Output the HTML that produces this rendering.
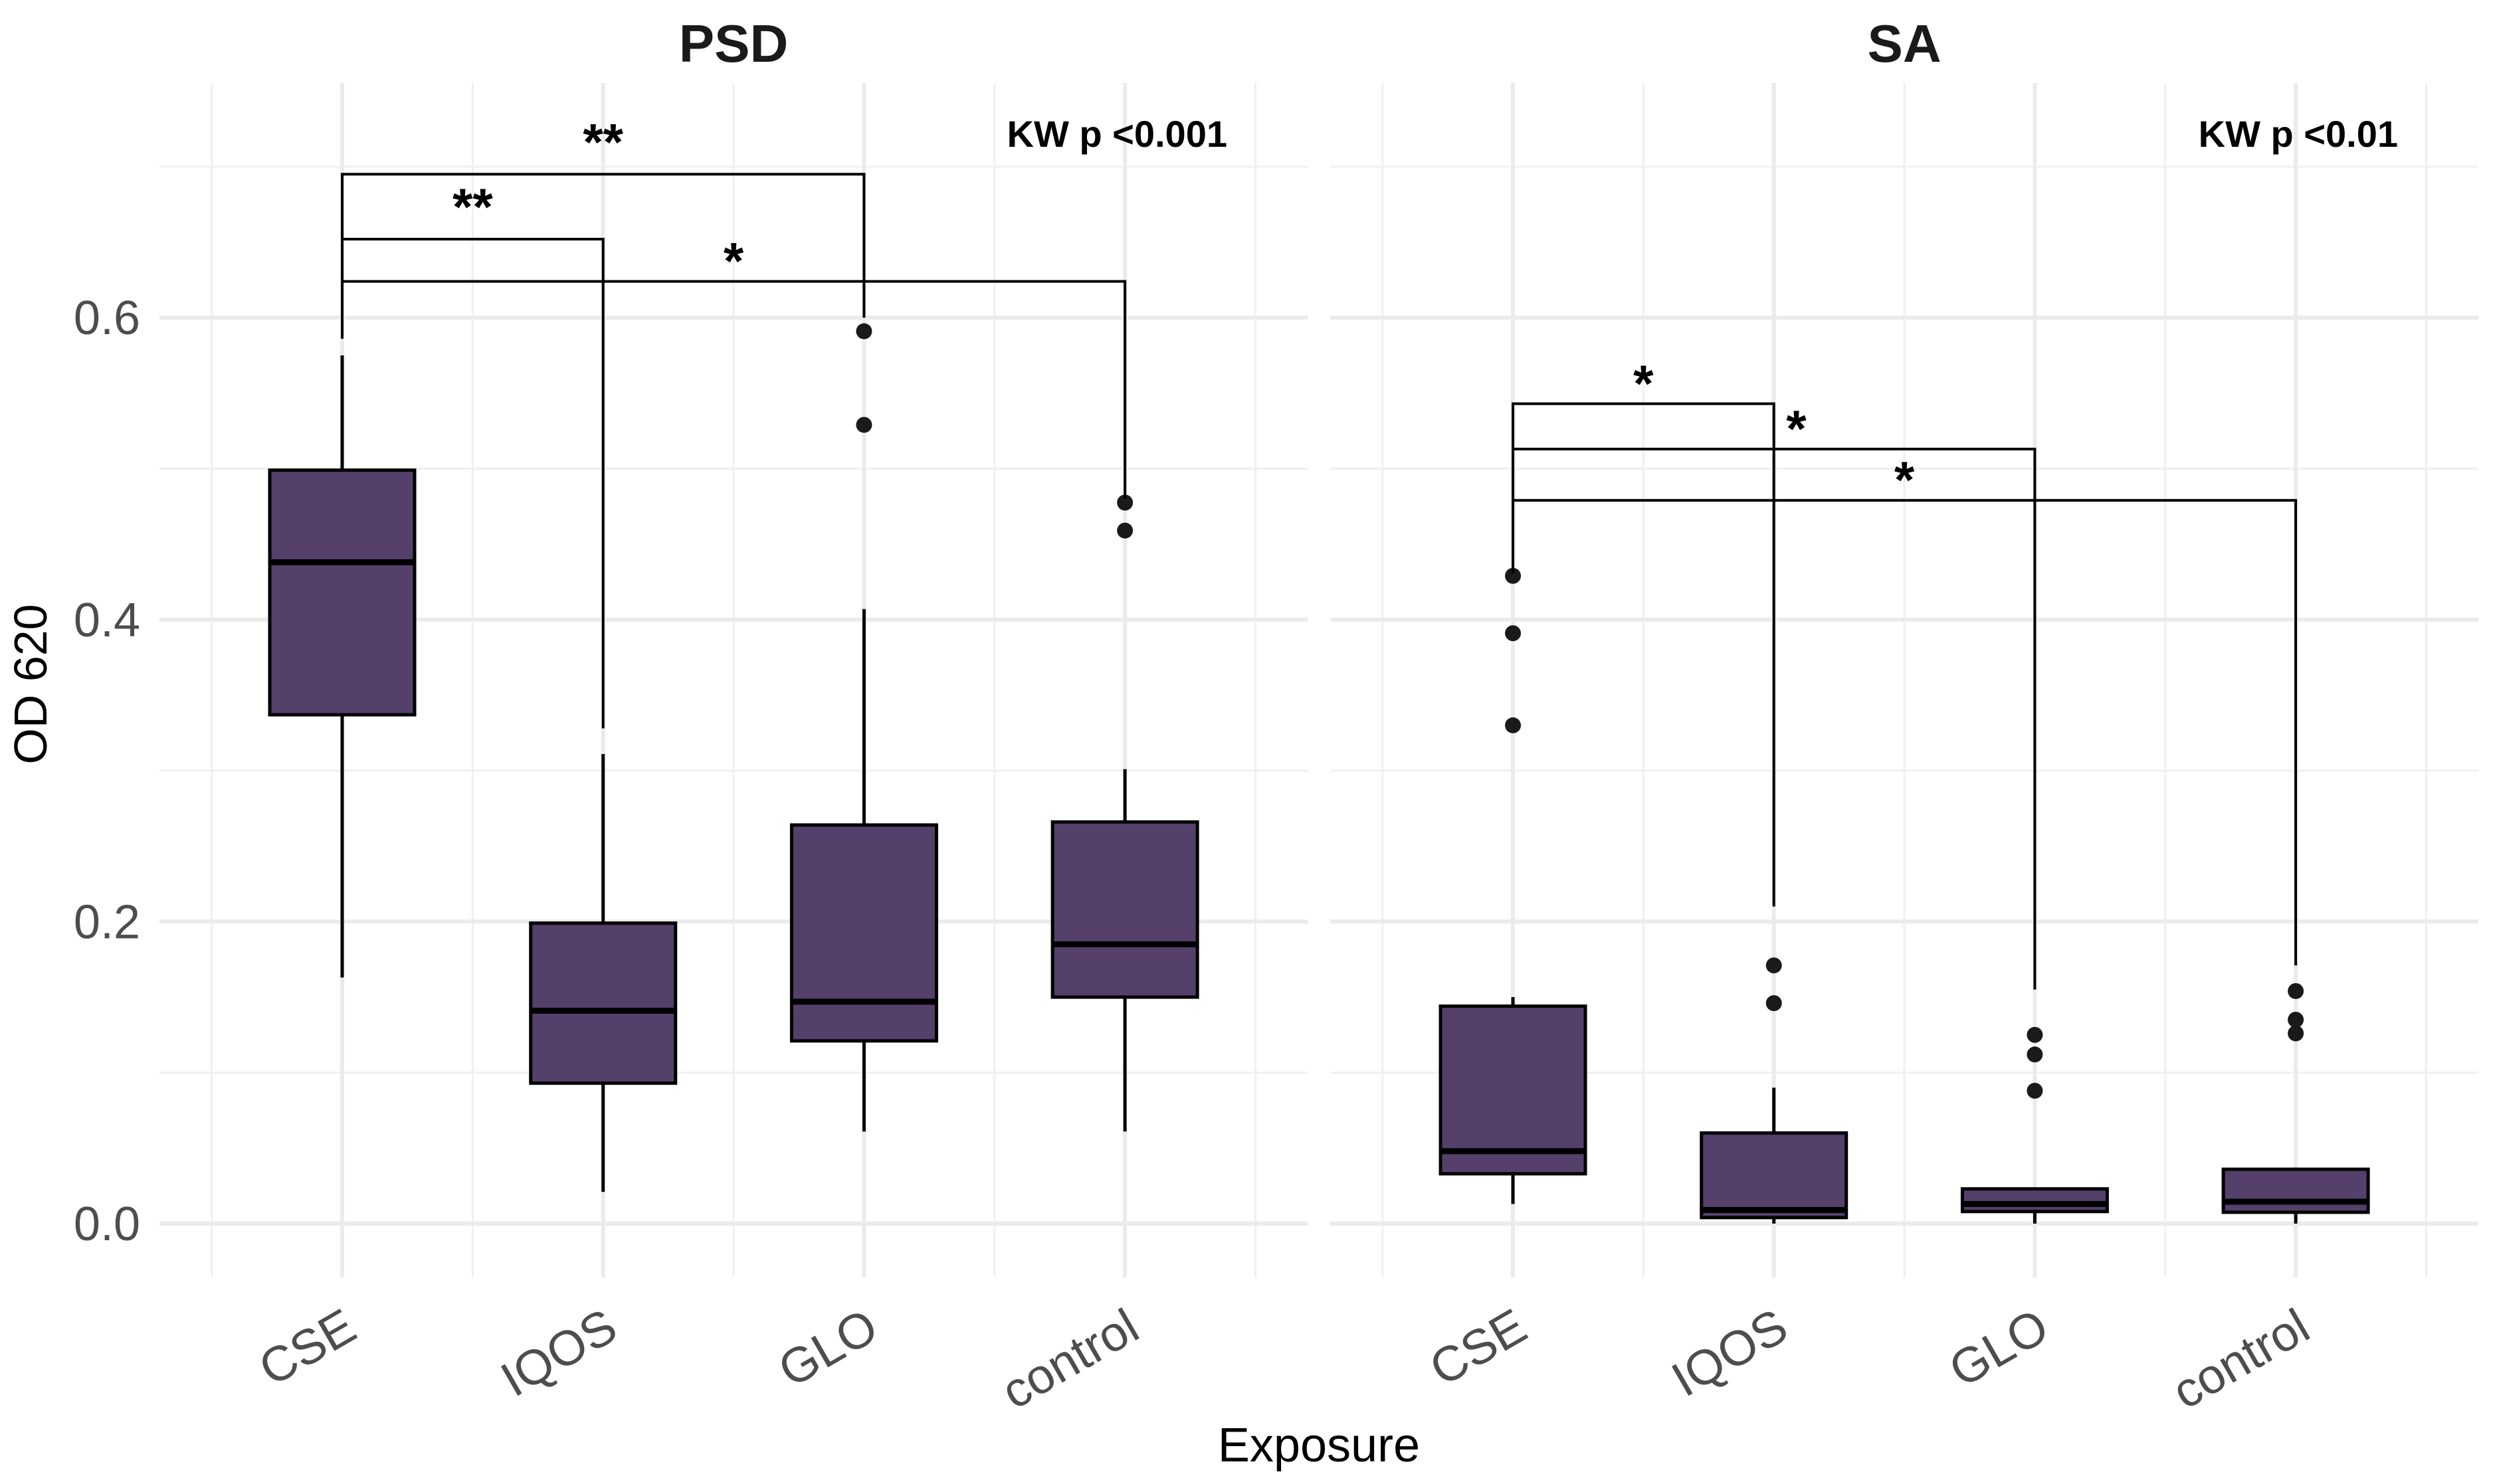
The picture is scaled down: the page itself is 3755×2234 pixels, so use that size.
<!DOCTYPE html>
<html><head><meta charset="utf-8"><style>
html,body{margin:0;padding:0;background:#fff;}
svg{display:block;font-family:"Liberation Sans",Arial,sans-serif;}
</style></head><body>
<svg id="chart" width="3755" height="2234" viewBox="0 0 3755 2234" xmlns="http://www.w3.org/2000/svg"></svg>
<script>
const categories = ["CSE","IQOS","GLO","control"];
const panels = ["PSD","SA"];
const kwLabels = ["KW p <0.001","KW p <0.01"];
const yTicks = [0.0,0.2,0.4,0.6];
const yTickLabels = ["0.0","0.2","0.4","0.6"];
// [whiskerLow, q1, median, q3, whiskerHigh]
const psdStats = [[0.163,0.337,0.438,0.499,0.575],[0.021,0.093,0.141,0.199,0.311],[0.061,0.121,0.147,0.264,0.407],[0.061,0.150,0.185,0.266,0.301]];
const saStats = [[0.013,0.033,0.048,0.144,0.150],[0.0,0.004,0.009,0.060,0.090],[0.0,0.008,0.013,0.023,0.023],[0.0,0.0075,0.0145,0.036,0.037]];
const psdOutliers = [[],[],[0.591,0.529],[0.4775,0.459]];
const saOutliers = [[0.429,0.391,0.330],[0.171,0.146],[0.125,0.112,0.088],[0.154,0.135,0.126]];
// brackets: [fromCat, toCat, y, tipFrom, tipTo, label]
const psdBrackets = [[0,2,0.695,0.586,0.600,"**"],[0,1,0.652,0.586,0.328,"**"],[0,3,0.624,0.586,0.480,"*"]];
const saBrackets = [[0,1,0.543,0.431,0.210,"*"],[0,2,0.513,0.431,0.155,"*"],[0,3,0.479,0.431,0.171,"*"]];
const saLabelShift = [0,0.086,0];

const svg = document.getElementById('chart');
const NS = "http://www.w3.org/2000/svg";
function mk(tag, attrs, parent){const e=document.createElementNS(NS,tag);for(const k in attrs)e.setAttribute(k,attrs[k]);(parent||svg).appendChild(e);return e;}

const catStep = 392.7;
const catStart = [515, 2277];
function xs(p, i){return catStart[p] + i*catStep;}
function ys(v){return 1842 - v*2273;}
const panelTop = 125, panelBottom = 1923;

yTicks.forEach((t,i)=>{
  const tl = mk('text',{x:211,y:ys(t)+25,'text-anchor':'end','font-size':72,fill:'#4d4d4d'});
  
  
  tl.textContent = yTickLabels[i];
});
const yt = mk('text',{transform:'translate(70,1030) rotate(-90)','text-anchor':'middle','font-size':70,fill:'#000'});


yt.textContent = 'OD 620';
const xt = mk('text',{x:1985,y:2200,'text-anchor':'middle','font-size':72,fill:'#000'});


xt.textContent = 'Exposure';

[0,1].forEach(p=>{
  const stats = p===0 ? psdStats : saStats;
  const outl = p===0 ? psdOutliers : saOutliers;
  const brs = p===0 ? psdBrackets : saBrackets;
  const g = mk('g',{});
  
  
  const x0 = xs(p,-0.7), x1 = xs(p,3.7);
  for(let v=0.1; v<0.75; v+=0.2){
    const l=mk('line',{x1:x0,x2:x1,y1:ys(v),y2:ys(v),stroke:'#f0f0f0','stroke-width':3},g);
    
    
  }
  for(let i=-0.5;i<4;i+=1){
    const l=mk('line',{x1:xs(p,i),x2:xs(p,i),y1:panelTop,y2:panelBottom,stroke:'#f0f0f0','stroke-width':3},g);
    
    
  }
  yTicks.forEach(t=>{
    const l=mk('line',{x1:x0,x2:x1,y1:ys(t),y2:ys(t),stroke:'#ebebeb','stroke-width':6},g);
    
    
  });
  categories.forEach((c,i)=>{
    const l=mk('line',{x1:xs(p,i),x2:xs(p,i),y1:panelTop,y2:panelBottom,stroke:'#ebebeb','stroke-width':6},g);
    
    
  });
  const tt = mk('text',{x:(x0+x1)/2,y:93,'text-anchor':'middle','font-size':80,'font-weight':'bold',fill:'#1a1a1a'},g);
  
  
  tt.textContent = panels[p];
  const kw = mk('text',{x:p===0?1847:3609,y:221,'text-anchor':'end','font-size':56,'font-weight':'bold',fill:'#000'},g);
  
  
  kw.textContent = kwLabels[p];
  categories.forEach((c,i)=>{
    const s = stats[i], cx = xs(p,i), hw = 109;
    const bg = mk('g',{},g);
    
    
    const w1=mk('line',{x1:cx,x2:cx,y1:ys(s[0]),y2:ys(s[1]),stroke:'#000','stroke-width':5},bg);
    
    
    const w2=mk('line',{x1:cx,x2:cx,y1:ys(s[3]),y2:ys(s[4]),stroke:'#000','stroke-width':5},bg);
    
    
    const r=mk('rect',{x:cx-hw,y:ys(s[3]),width:2*hw,height:Math.max(ys(s[1])-ys(s[3]),1),fill:'#553f6b',stroke:'#000','stroke-width':5},bg);
    
    
    const m=mk('line',{x1:cx-hw,x2:cx+hw,y1:ys(s[2]),y2:ys(s[2]),stroke:'#000','stroke-width':9},bg);
    
    
    outl[i].forEach(v=>{
      const o=mk('circle',{cx:cx,cy:ys(v),r:12,fill:'#1a1a1a'},bg);
      
      
    });
  });
  brs.forEach((b,k)=>{
    const bx0=xs(p,b[0]), bx1=xs(p,b[1]), by=ys(b[2]);
    const pg = mk('g',{},g);
    
    
    mk('path',{d:`M${bx0},${ys(b[3])} L${bx0},${by} L${bx1},${by} L${bx1},${ys(b[4])}`,fill:'none',stroke:'#000','stroke-width':4},pg);
    const shift = p===1 ? saLabelShift[k] : 0;
    const off = b[5].length===1 ? 4 : 22;
    const st = mk('text',{x:(bx0+bx1)/2 + shift*catStep,y:by-off,'text-anchor':'middle','font-size':78,'font-weight':'bold',fill:'#000'},pg);
    
    
    st.textContent = b[5];
  });
  categories.forEach((c,i)=>{
    const tl = mk('text',{transform:`translate(${xs(p,i)+26},2012) rotate(-30)`,'text-anchor':'end','font-size':74,fill:'#4d4d4d'},g);
    
    
    tl.textContent = c;
  });
});
</script>
</body></html>
